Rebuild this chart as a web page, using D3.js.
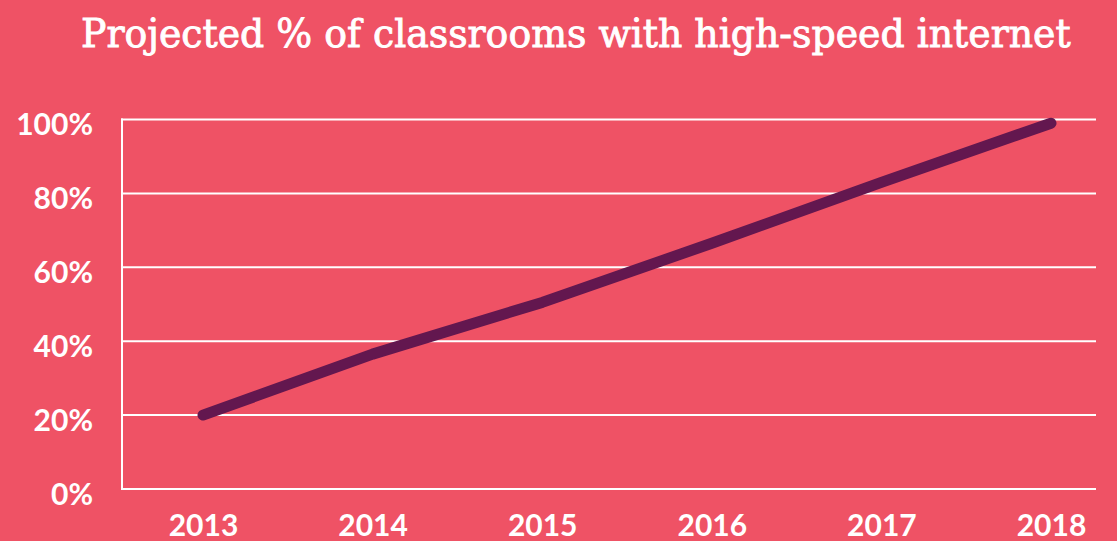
<!DOCTYPE html>
<html>
<head>
<meta charset="utf-8">
<script src="https://cdn.jsdelivr.net/npm/d3@7"></script>
<style>
  html, body { margin: 0; padding: 0; background: #ef5265; }
  svg { display: block; }
</style>
</head>
<body>
<svg></svg>
<script>
const years = ['2013', '2014', '2015', '2016', '2017', '2018'];
const values = [20, 36.5, 50.5, 66.5, 83, 99];
const yTicks = [0, 20, 40, 60, 80, 100];
const title = 'Projected % of classrooms with high-speed internet';

init();

function init() {
    const w = 1117, h = 541;
    const bg = '#ef5265';
    const lineColor = '#63174f';

    const svg = d3.select('svg').attr('width', w).attr('height', h);
    svg.append('rect').attr('width', w).attr('height', h).attr('fill', bg);

    const x = d3.scalePoint().domain(years).range([203, 1051]);
    const y = d3.scaleLinear().domain([0, 100]).range([489, 119.5]);

    // title, narrowed horizontally to the original width
    const t = svg.append('text')
        .attr('x', 0)
        .attr('y', 0)
        .attr('fill', '#fff')
        .attr('stroke', '#fff')
        .attr('stroke-width', 0.9)
        .style('font-family', '"DejaVu Serif", serif')
        .style('font-size', '40px')
        .text(title);
    const tw = t.node().getComputedTextLength();
    t.attr('transform', 'translate(81,47) scale(' + (990 / tw) + ',1)');

    // horizontal grid
    const gGrid = svg.append('g');
    yTicks.forEach(d => {
        gGrid.append('line')
            .attr('x1', 121)
            .attr('x2', 1096)
            .attr('y1', y(d))
            .attr('y2', y(d))
            .attr('stroke', '#fff')
            .attr('stroke-width', 2);
    });
    // y axis line
    gGrid.append('line')
        .attr('x1', 122).attr('x2', 122)
        .attr('y1', y(100) - 1).attr('y2', y(0) + 1)
        .attr('stroke', '#fff')
        .attr('stroke-width', 2);

    // y labels
    const yAxis = d3.axisLeft(y).tickValues(yTicks).tickFormat(d => d + '%').tickSize(0).tickPadding(29);
    const gy = svg.append('g').attr('transform', 'translate(122,0)').call(yAxis);
    gy.select('.domain').remove();
    gy.selectAll('text')
        .attr('fill', '#fff')
        .attr('dy', '0.5em')
        .style('font-family', 'Lato, sans-serif')
        .style('font-weight', 'bold')
        .style('font-size', '30px');

    // x labels
    const xAxis = d3.axisBottom(x).tickSize(0).tickPadding(0);
    const gx = svg.append('g').attr('transform', 'translate(0,536)').call(xAxis);
    gx.select('.domain').remove();
    gx.selectAll('text')
        .attr('fill', '#fff')
        .attr('dy', 0)
        .attr('y', 0)
        .style('font-family', 'Lato, sans-serif')
        .style('font-weight', 'bold')
        .style('font-size', '30px');

    // line
    const line = d3.line()
        .x((d, i) => x(years[i]))
        .y(d => y(d));

    svg.append('path')
        .datum(values)
        .attr('fill', 'none')
        .attr('stroke', lineColor)
        .attr('stroke-width', 11)
        .attr('stroke-linecap', 'round')
        .attr('stroke-linejoin', 'round')
        .attr('d', line);
}
</script>
</body>
</html>
